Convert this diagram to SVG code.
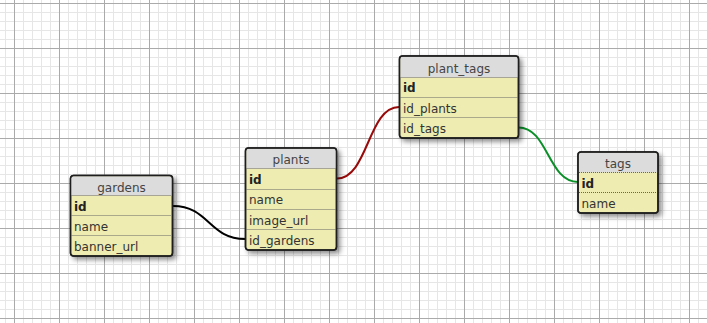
<svg xmlns="http://www.w3.org/2000/svg" width="707" height="323" viewBox="0 0 707 323">
  <style>
    .frame { fill: #eeecb1; stroke: #1e1e1e; stroke-width: 1.5; }
    .head { fill: #dcdcdc; }
    .sep { stroke: #666; stroke-width: 1; stroke-dasharray: 1 1; }
    .title { font-family: "DejaVu Sans", sans-serif; font-size: 12px; fill: #444; text-anchor: middle; }
    .col { font-family: "DejaVu Sans", sans-serif; font-size: 12px; fill: #333; }
    .pk { font-weight: bold; fill: #222; }
    .link { fill: none; stroke-width: 2; }
  </style>
  <defs>
    <pattern id="grid" patternUnits="userSpaceOnUse" x="14" y="3" width="45" height="45">
      <path d="M9.5 0V45M18.5 0V45M27.5 0V45M36.5 0V45M0 9.5H45M0 18.5H45M0 27.5H45M0 36.5H45" stroke="#e6e6e6" stroke-width="1"/>
      <path d="M0.5 0V45M0 0.5H45" stroke="#aaaaaa" stroke-width="1"/>
    </pattern>
    <filter id="shadow" x="-20%" y="-20%" width="150%" height="150%">
      <feDropShadow dx="3" dy="3" stdDeviation="2.5" flood-color="#000" flood-opacity="0.45"/>
    </filter>
  </defs>

  <!-- paper grid -->
  <rect x="0" y="0" width="707" height="323" fill="#ffffff"/>
  <rect x="0" y="0" width="707" height="323" fill="url(#grid)"/>

  <!-- relations -->
  <g id="connectors">
    <path class="link" stroke="#000000" d="M173,206 C209,206 209,239 245,239"/>
    <path class="link" stroke="#990a0a" d="M337,178.5 C368,178.5 368,107 399,107"/>
    <path class="link" stroke="#0a9028" d="M518.5,127.5 C548,127.5 548,182 578,182"/>
  </g>

  <!-- gardens -->
  <g id="gardens" transform="translate(70,175)">
    <g filter="url(#shadow)">
      <rect class="frame" x="0.5" y="0.5" width="102" height="80.5" rx="3"/>
    </g>
    <path class="head" d="M3.5,1.25H99.5A2.25,2.25 0 0 1 101.75,3.5V20.5H1.25V3.5A2.25,2.25 0 0 1 3.5,1.25Z"/>
    <rect x="0.5" y="0.5" width="102" height="80.5" rx="3" fill="none" stroke="#1e1e1e" stroke-width="1.5"/>
    <line class="sep" x1="1.5" y1="20.5" x2="101.5" y2="20.5"/>
    <line class="sep" x1="1.5" y1="40.5" x2="101.5" y2="40.5"/>
    <line class="sep" x1="1.5" y1="60.5" x2="101.5" y2="60.5"/>
    <text class="title" x="51.5" y="16.5">gardens</text>
    <text class="col pk" x="4" y="35.7">id</text>
    <text class="col" x="4" y="56">name</text>
    <text class="col" x="4" y="76">banner_url</text>
  </g>

  <!-- plants -->
  <g id="plants" transform="translate(245,148)">
    <g filter="url(#shadow)">
      <rect class="frame" x="0.5" y="0" width="91" height="102" rx="3"/>
    </g>
    <path class="head" d="M3.5,0.75H88.5A2.25,2.25 0 0 1 90.75,3V20.5H1.25V3A2.25,2.25 0 0 1 3.5,0.75Z"/>
    <rect x="0.5" y="0" width="91" height="102" rx="3" fill="none" stroke="#1e1e1e" stroke-width="1.5"/>
    <line class="sep" x1="1.5" y1="20.5" x2="90.5" y2="20.5"/>
    <line class="sep" x1="1.5" y1="41.5" x2="90.5" y2="41.5"/>
    <line class="sep" x1="1.5" y1="61.5" x2="90.5" y2="61.5"/>
    <line class="sep" x1="1.5" y1="81.5" x2="90.5" y2="81.5"/>
    <text class="title" x="46" y="16">plants</text>
    <text class="col pk" x="4" y="35.5">id</text>
    <text class="col" x="4" y="56">name</text>
    <text class="col" x="4" y="76.5">image_url</text>
    <text class="col" x="4" y="97">id_gardens</text>
  </g>

  <!-- plant_tags -->
  <g id="plant_tags" transform="translate(399,56)">
    <g filter="url(#shadow)">
      <rect class="frame" x="0.5" y="0" width="119" height="82" rx="3"/>
    </g>
    <path class="head" d="M3.5,0.75H116.5A2.25,2.25 0 0 1 118.75,3V21.5H1.25V3A2.25,2.25 0 0 1 3.5,0.75Z"/>
    <rect x="0.5" y="0" width="119" height="82" rx="3" fill="none" stroke="#1e1e1e" stroke-width="1.5"/>
    <line class="sep" x1="1.5" y1="21.5" x2="118.5" y2="21.5"/>
    <line class="sep" x1="1.5" y1="41.5" x2="118.5" y2="41.5"/>
    <line class="sep" x1="1.5" y1="61.5" x2="118.5" y2="61.5"/>
    <text class="title" x="60" y="16.5">plant_tags</text>
    <text class="col pk" x="4" y="36">id</text>
    <text class="col" x="4" y="56.5">id_plants</text>
    <text class="col" x="4" y="76.5">id_tags</text>
  </g>

  <!-- tags -->
  <g id="tags" transform="translate(578,152)">
    <g filter="url(#shadow)">
      <rect class="frame" x="0" y="0" width="80" height="61" rx="3"/>
    </g>
    <path class="head" d="M3,0.75H77A2.25,2.25 0 0 1 79.25,3V20.5H0.75V3A2.25,2.25 0 0 1 3,0.75Z"/>
    <rect x="0" y="0" width="80" height="61" rx="3" fill="none" stroke="#1e1e1e" stroke-width="1.5"/>
    <line class="sep" x1="1" y1="20.5" x2="79" y2="20.5"/>
    <line class="sep" x1="1" y1="40.5" x2="79" y2="40.5"/>
    <text class="title" x="40" y="16">tags</text>
    <text class="col pk" x="3.5" y="35.5">id</text>
    <text class="col" x="3.5" y="55.5">name</text>
  </g>
</svg>
